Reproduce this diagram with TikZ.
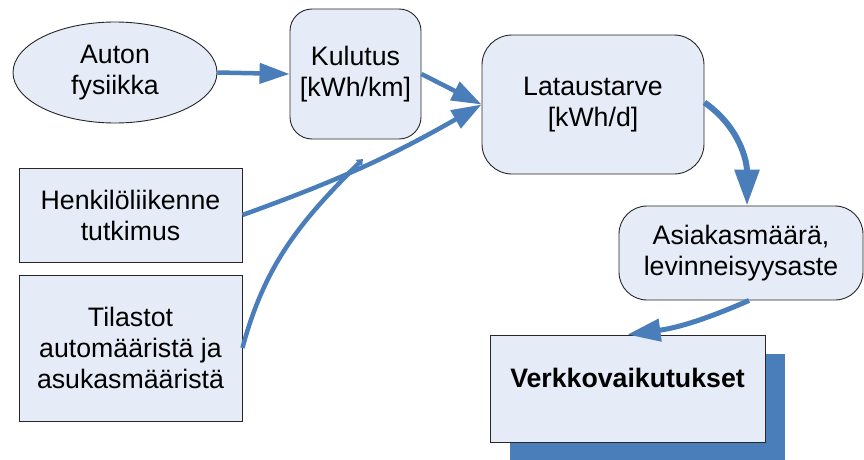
\documentclass[tikz,border=0pt]{standalone}
\usepackage{fontspec}
\setmainfont{Liberation Sans}
\usetikzlibrary{arrows.meta,shapes.geometric,shadows}
\definecolor{boxfill}{HTML}{E6ECF7}
\definecolor{arrowblue}{HTML}{4A7EBB}

\begin{document}
\begin{tikzpicture}[
  x=1pt, y=1pt,
  every node/.style={font=\fontsize{26.7}{31}\selectfont, align=center, inner sep=0pt},
  box/.style={draw=black!85, line width=0.9pt, fill=boxfill},
  roundbox/.style={box, rounded corners=26pt},
  line/.style={arrowblue, line width=4.5pt, -{Triangle[length=30pt,width=20pt]}}
]
\useasboundingbox (0,0) rectangle (864,459);
\node[box, ellipse, minimum width=204pt, minimum height=101pt] (fys) at (115,386.5) {Auton\\fysiikka};
\node[roundbox, rounded corners=22pt, minimum width=131pt, minimum height=130pt] (kul) at (355.5,385) {Kulutus\\{[kWh/km]}};
\node[roundbox, rounded corners=30pt, minimum width=222pt, minimum height=139pt] (lat) at (593,354.5) {Lataustarve\\{[kWh/d]}};
\node[box, minimum width=223pt, minimum height=94pt] (hen) at (130.5,244) {Henkilöliikenne\\tutkimus};
\node[box, minimum width=223pt, minimum height=146pt] (til) at (130.5,111) {Tilastot\\automääristä ja\\asukasmääristä};
\node[roundbox, rounded corners=28pt, minimum width=244pt, minimum height=94pt] (asi) at (741,206) {Asiakasmäärä,\\levinneisyysaste};
\node[box, general shadow={fill=arrowblue, shadow xshift=20pt, shadow yshift=-19pt},
  minimum width=275pt, minimum height=107pt, text height=20pt, text depth=22pt,
  font=\fontsize{26.7}{31}\selectfont\bfseries] (ver) at (627.5,70.5) {Verkkovaikutukset};
\coordinate (meet) at (363,300);

\draw[line] (fys.east) -- (kul.west);
\draw[line] (kul.east) -- (lat.west);
\draw[line] (hen.east) to[bend right=5] (lat.west);
\draw[line, -{Triangle[length=6pt,width=9pt]}] (til.east) to[out=75, in=225] (meet);
\draw[line, line width=6pt, -{Triangle[length=36pt,width=24pt]}] ([yshift=2pt]lat.east) to[out=-35, in=90] ([xshift=6pt]asi.north);
\draw[line, line width=5pt, -{Triangle[length=33pt,width=22pt]}] ([xshift=8pt]asi.south) to[bend left=8] (ver.north);
\end{tikzpicture}
\end{document}
